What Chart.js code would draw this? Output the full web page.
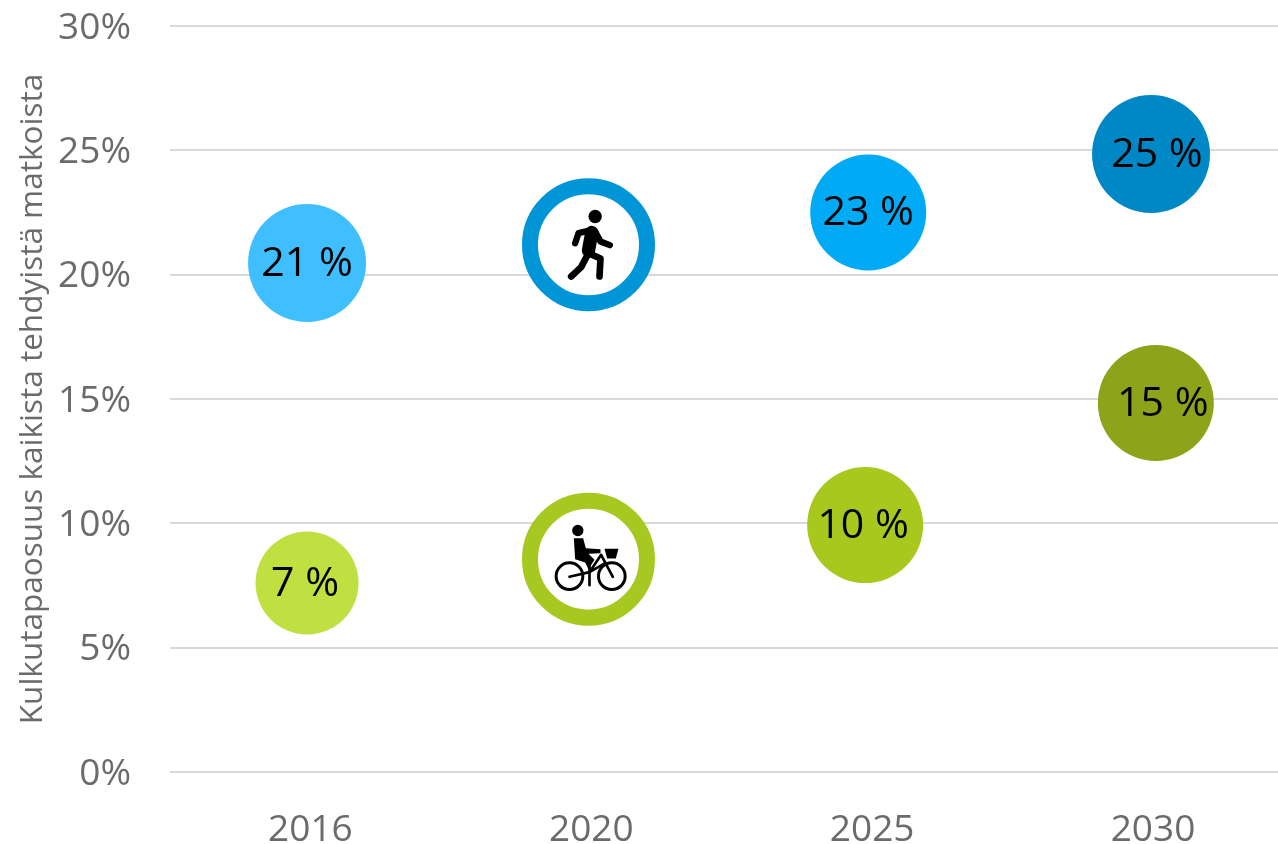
<!DOCTYPE html>
<html>
<head>
<meta charset="utf-8">
<title>Kulkutapaosuus</title>
<script src="https://cdn.jsdelivr.net/npm/chart.js@4/dist/chart.umd.min.js"></script>
<style>
    html, body { margin: 0; padding: 0; background: #fff; overflow: hidden; }
    canvas { display: block; }
</style>
</head>
<body>
<canvas id="chart" width="1278" height="844"></canvas>
<script>
// Chart data
const years = ['2016', '2020', '2025', '2030'];
const yTicks = [0, 5, 10, 15, 20, 25, 30];
const yAxisTitle = 'Kulkutapaosuus kaikista tehdyistä matkoista';

// The circles are hand placed in the original, so x wanders a little around the year
const walkX = [-0.012, 0.99, 1.986, 2.993];
const walkShare = [20.47, 21.2, 22.5, 24.85];
const walkLabels = ['21 %', '', '23 %', '25 %'];

const cycleX = [-0.012, 0.99, 1.975, 3.01];
const cycleShare = [7.6, 8.56, 9.93, 14.84];
const cycleLabels = ['7 %', '', '10 %', '15 %'];

// Styles
const walkColors = ['#3fbfff', '#ffffff', '#00aaf5', '#0088c6'];
const walkBorders = ['#3fbfff', '#0095d6', '#00aaf5', '#0088c6'];
const cycleColors = ['#bfe040', '#ffffff', '#a8c81e', '#8ca31a'];
const cycleBorders = ['#bfe040', '#a6c820', '#a8c81e', '#8ca31a'];
const walkRadius = [59, 58.5, 58, 59];
const cycleRadius = [51.5, 58.5, 58, 58];
const walkLabelShift = [0, 0, 0, 6];
const cycleLabelShift = [-2, 0, -2, 7];
const ringIndex = 1;

function drawWalker(ctx) {
    ctx.beginPath();
    ctx.arc(282, 170, 20, 0, Math.PI * 2);
    ctx.fill();
    ctx.lineWidth = 19;
    // arms
    ctx.beginPath();
    ctx.moveTo(265, 212);
    ctx.lineTo(232, 220);
    ctx.lineTo(222, 250);
    ctx.moveTo(282, 215);
    ctx.lineTo(298, 245);
    ctx.lineTo(326, 256);
    ctx.stroke();
    // legs
    ctx.lineWidth = 20;
    ctx.beginPath();
    ctx.moveTo(262, 280);
    ctx.lineTo(240, 322);
    ctx.lineTo(210, 350);
    ctx.moveTo(262, 280);
    ctx.lineTo(298, 296);
    ctx.lineTo(295, 350);
    ctx.stroke();
    // torso
    ctx.lineWidth = 40;
    ctx.beginPath();
    ctx.moveTo(272, 218);
    ctx.lineTo(262, 272);
    ctx.stroke();
}

function drawCyclist(ctx) {
    ctx.beginPath();
    ctx.arc(230, 152, 17, 0, Math.PI * 2);
    ctx.fill();
    // wheels
    ctx.lineWidth = 9;
    ctx.beginPath();
    ctx.arc(205, 289, 40, 0, Math.PI * 2);
    ctx.moveTo(372, 289);
    ctx.arc(332, 289, 40, 0, Math.PI * 2);
    ctx.stroke();
    // frame
    ctx.lineWidth = 8;
    ctx.beginPath();
    ctx.moveTo(205, 291);
    ctx.lineTo(265, 277);
    ctx.lineTo(300, 225);
    ctx.lineTo(335, 291);
    ctx.moveTo(265, 255);
    ctx.lineTo(265, 316);
    ctx.moveTo(265, 277);
    ctx.lineTo(312, 250);
    ctx.stroke();
    // body and arm
    ctx.beginPath();
    ctx.moveTo(218, 175);
    ctx.lineTo(246, 175);
    ctx.lineTo(254, 205);
    ctx.lineTo(298, 208);
    ctx.lineTo(298, 220);
    ctx.lineTo(262, 222);
    ctx.lineTo(280, 240);
    ctx.lineTo(262, 268);
    ctx.lineTo(252, 248);
    ctx.lineTo(222, 238);
    ctx.closePath();
    ctx.fill();
    // basket
    ctx.beginPath();
    ctx.moveTo(310, 207);
    ctx.lineTo(352, 207);
    ctx.lineTo(344, 236);
    ctx.lineTo(318, 236);
    ctx.closePath();
    ctx.fill();
}

// Percent labels and the two icons on top of the circles
const circleTextPlugin = {
    id: 'circleText',
    afterDatasetsDraw(chart) {
        const ctx = chart.ctx;
        chart.data.datasets.forEach((dataset, i) => {
            chart.getDatasetMeta(i).data.forEach((point, index) => {
                ctx.save();
                if (index === ringIndex) {
                    ctx.translate(point.x, point.y);
                    ctx.scale(1 / 3, 1 / 3);
                    ctx.translate(-262, dataset.icon === drawWalker ? -255 : -238);
                    ctx.fillStyle = '#000';
                    ctx.strokeStyle = '#000';
                    ctx.lineCap = 'round';
                    ctx.lineJoin = 'round';
                    dataset.icon(ctx);
                } else {
                    ctx.fillStyle = '#000';
                    ctx.font = '41px "Open Sans"';
                    ctx.textAlign = 'center';
                    ctx.textBaseline = 'middle';
                    ctx.fillText(dataset.circleLabels[index], point.x + dataset.labelShift[index], point.y + 1);
                }
                ctx.restore();
            });
        });
    }
};

// Axis label overhang must not push the plot area in
function clearScalePadding(scale) {
    scale.paddingTop = 0;
    scale.paddingBottom = 0;
    scale.paddingLeft = 0;
    scale.paddingRight = 0;
}

new Chart(document.getElementById('chart'), {
    type: 'scatter',
    data: {
        datasets: [
            {
                label: 'Kävely',
                data: walkShare.map((v, i) => ({ x: walkX[i], y: v })),
                circleLabels: walkLabels,
                labelShift: walkLabelShift,
                icon: drawWalker,
                backgroundColor: walkColors,
                borderColor: walkBorders,
                borderWidth: walkRadius.map((r, i) => i === ringIndex ? 16 : 0),
                pointRadius: walkRadius,
                hoverRadius: walkRadius,
                clip: false
            },
            {
                label: 'Pyöräily',
                data: cycleShare.map((v, i) => ({ x: cycleX[i], y: v })),
                circleLabels: cycleLabels,
                labelShift: cycleLabelShift,
                icon: drawCyclist,
                backgroundColor: cycleColors,
                borderColor: cycleBorders,
                borderWidth: cycleRadius.map((r, i) => i === ringIndex ? 16 : 0),
                pointRadius: cycleRadius,
                hoverRadius: cycleRadius,
                clip: false
            }
        ]
    },
    options: {
        responsive: false,
        animation: false,
        layout: { autoPadding: false, padding: { top: 26, left: 0, right: 0, bottom: 0 } },
        plugins: {
            legend: { display: false },
            tooltip: { enabled: false }
        },
        scales: {
            x: {
                type: 'linear',
                min: -0.5,
                max: 3.445,
                afterBuildTicks: (scale) => {
                    scale.ticks = years.map((y, i) => ({ value: i }));
                },
                afterFit: (scale) => {
                    scale.height = 72;
                    clearScalePadding(scale);
                },
                grid: { display: false },
                border: { display: false },
                ticks: {
                    autoSkip: false,
                    maxRotation: 0,
                    padding: 28,
                    color: '#6b6b6b',
                    font: { family: '"Open Sans"', size: 37 },
                    callback: (value) => years[value]
                }
            },
            y: {
                min: 0,
                max: 30,
                afterBuildTicks: (scale) => {
                    scale.ticks = yTicks.map((v) => ({ value: v }));
                },
                afterFit: (scale) => {
                    scale.width = 170;
                    clearScalePadding(scale);
                },
                grid: { color: '#d9d9d9', lineWidth: 2, drawTicks: false },
                border: { display: false },
                ticks: {
                    padding: 39,
                    labelOffset: 2,
                    color: '#6b6b6b',
                    font: { family: '"Open Sans"', size: 37 },
                    callback: (value) => value + '%'
                },
                title: {
                    display: true,
                    text: yAxisTitle,
                    color: '#6b6b6b',
                    font: { family: '"Open Sans"', size: 31.5 },
                    padding: { top: 14, bottom: 0 }
                }
            }
        }
    },
    plugins: [circleTextPlugin]
});
</script>
</body>
</html>
